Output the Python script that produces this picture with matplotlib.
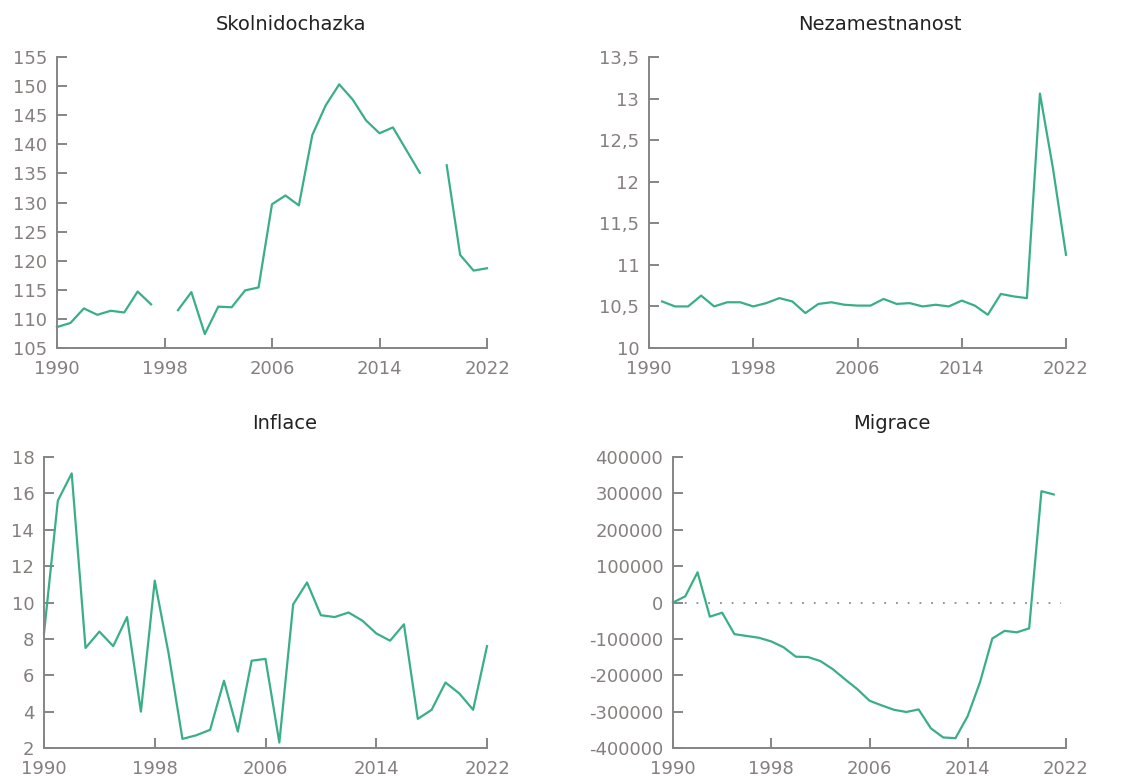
import numpy as np
import matplotlib
matplotlib.use("Agg")
import matplotlib.pyplot as plt
from matplotlib.ticker import FuncFormatter

plt.rcParams["font.family"] = ["DejaVu Sans"]
plt.rcParams["axes.unicode_minus"] = False

# ============================================================
# DATA
# ============================================================

years = np.arange(1990, 2023)

skolnidochazka = [
    108.6, 109.3, 111.8, 110.7, 111.4, 111.1, 114.7, 112.5, np.nan, 111.5,
    114.6, 107.4, 112.1, 112.0, 114.9, 115.4, 129.7, 131.2, 129.5, 141.6,
    146.7, 150.3, 147.7, 144.1, 141.9, 142.9, 139.0, 135.1, np.nan, 136.4,
    121.0, 118.3, 118.7,
]

years_nezam = np.arange(1991, 2023)
nezamestnanost = [
    10.56, 10.50, 10.50, 10.63, 10.50, 10.55, 10.55, 10.50, 10.54, 10.60,
    10.56, 10.42, 10.53, 10.55, 10.52, 10.51, 10.51, 10.59, 10.53, 10.54,
    10.50, 10.52, 10.50, 10.57, 10.51, 10.40, 10.65, 10.62, 10.60, 13.06,
    12.16, 11.12,
]

inflace = [
    8.3, 15.6, 17.1, 7.5, 8.4, 7.6, 9.2, 4.0, 11.2, 7.2,
    2.5, 2.7, 3.0, 5.7, 2.9, 6.8, 6.9, 2.3, 9.9, 11.1,
    9.3, 9.2, 9.45, 9.0, 8.3, 7.9, 8.8, 3.6, 4.1, 5.6,
    5.0, 4.1, 7.6,
]

years_migr = np.arange(1990, 2022)
migrace = [
    0, 17000, 83000, -39000, -28000, -87000, -92000, -97000, -107000, -123000,
    -149000, -150000, -161000, -183000, -211000, -238000, -270000, -283000,
    -295000, -301000, -294000, -346000, -371000, -373000, -312000, -219000,
    -99000, -78000, -82000, -71000, 306000, 297000,
]

xticks = [1990, 1998, 2006, 2014, 2022]

# ============================================================
# STYLE
# ============================================================

LINE = "#3aaf85"
SPINE = "#858585"
TICKTXT = "#857f7f"
TITLE = "#222222"
FS = 13

W, H = 1133, 780
fig = plt.figure(figsize=(W / 100, H / 100), dpi=100)


def make_axes(left, right, top, bottom):
    return fig.add_axes([left / W, 1 - bottom / H, (right - left) / W, (bottom - top) / H])


def style(ax, ylo, yhi, yticks):
    for s in ["top", "right"]:
        ax.spines[s].set_visible(False)
    for s in ["left", "bottom"]:
        ax.spines[s].set_color(SPINE)
        ax.spines[s].set_linewidth(1.4)
    ax.set_xlim(1990, 2022)
    ax.set_ylim(ylo, yhi)
    ax.set_xticks(xticks)
    ax.set_yticks(yticks)
    ax.tick_params(axis="both", direction="in", colors=SPINE, labelcolor=TICKTXT,
                   labelsize=FS, width=1.4)
    ax.tick_params(axis="x", length=7, pad=9)
    ax.tick_params(axis="y", length=7, pad=7)


# PLOT 1 — SKOLNIDOCHAZKA
ax1 = make_axes(57, 487, 57, 348)
ax1.plot(years, skolnidochazka, color=LINE, linewidth=1.6, clip_on=False)
style(ax1, 105, 155, np.arange(105, 156, 5))

# PLOT 2 — NEZAMESTNANOST
ax2 = make_axes(649, 1066, 57, 348)
ax2.plot(years_nezam, nezamestnanost, color=LINE, linewidth=1.6, clip_on=False)
style(ax2, 10, 13.5, np.arange(10, 13.51, 0.5))
ax2.yaxis.set_major_formatter(FuncFormatter(lambda v, p: f"{v:g}".replace(".", ",")))

# PLOT 3 — INFLACE
ax3 = make_axes(44, 487, 457, 748)
ax3.plot(years, inflace, color=LINE, linewidth=1.6, clip_on=False)
style(ax3, 2, 18, np.arange(2, 19, 2))

# PLOT 4 — MIGRACE
ax4 = make_axes(673, 1066, 457, 748)
ax4.hlines(0, 1990, 2021.6, colors="#8c8c8c", linewidth=1.3, linestyles=(0, (1, 5.5)))
ax4.plot(years_migr, migrace, color=LINE, linewidth=1.6, clip_on=False)
style(ax4, -400000, 400000, np.arange(-400000, 400001, 100000))
ax4.yaxis.set_major_formatter(FuncFormatter(lambda v, p: f"{int(v)}"))

# titles
for x, y, t in [(291, 25, "Skolnidochazka"), (880, 25, "Nezamestnanost"),
                (285, 424, "Inflace"), (892, 424, "Migrace")]:
    fig.text(x / W, 1 - y / H, t, ha="center", va="center", fontsize=14, color=TITLE)

plt.savefig("out.png", dpi=100)
plt.close()
